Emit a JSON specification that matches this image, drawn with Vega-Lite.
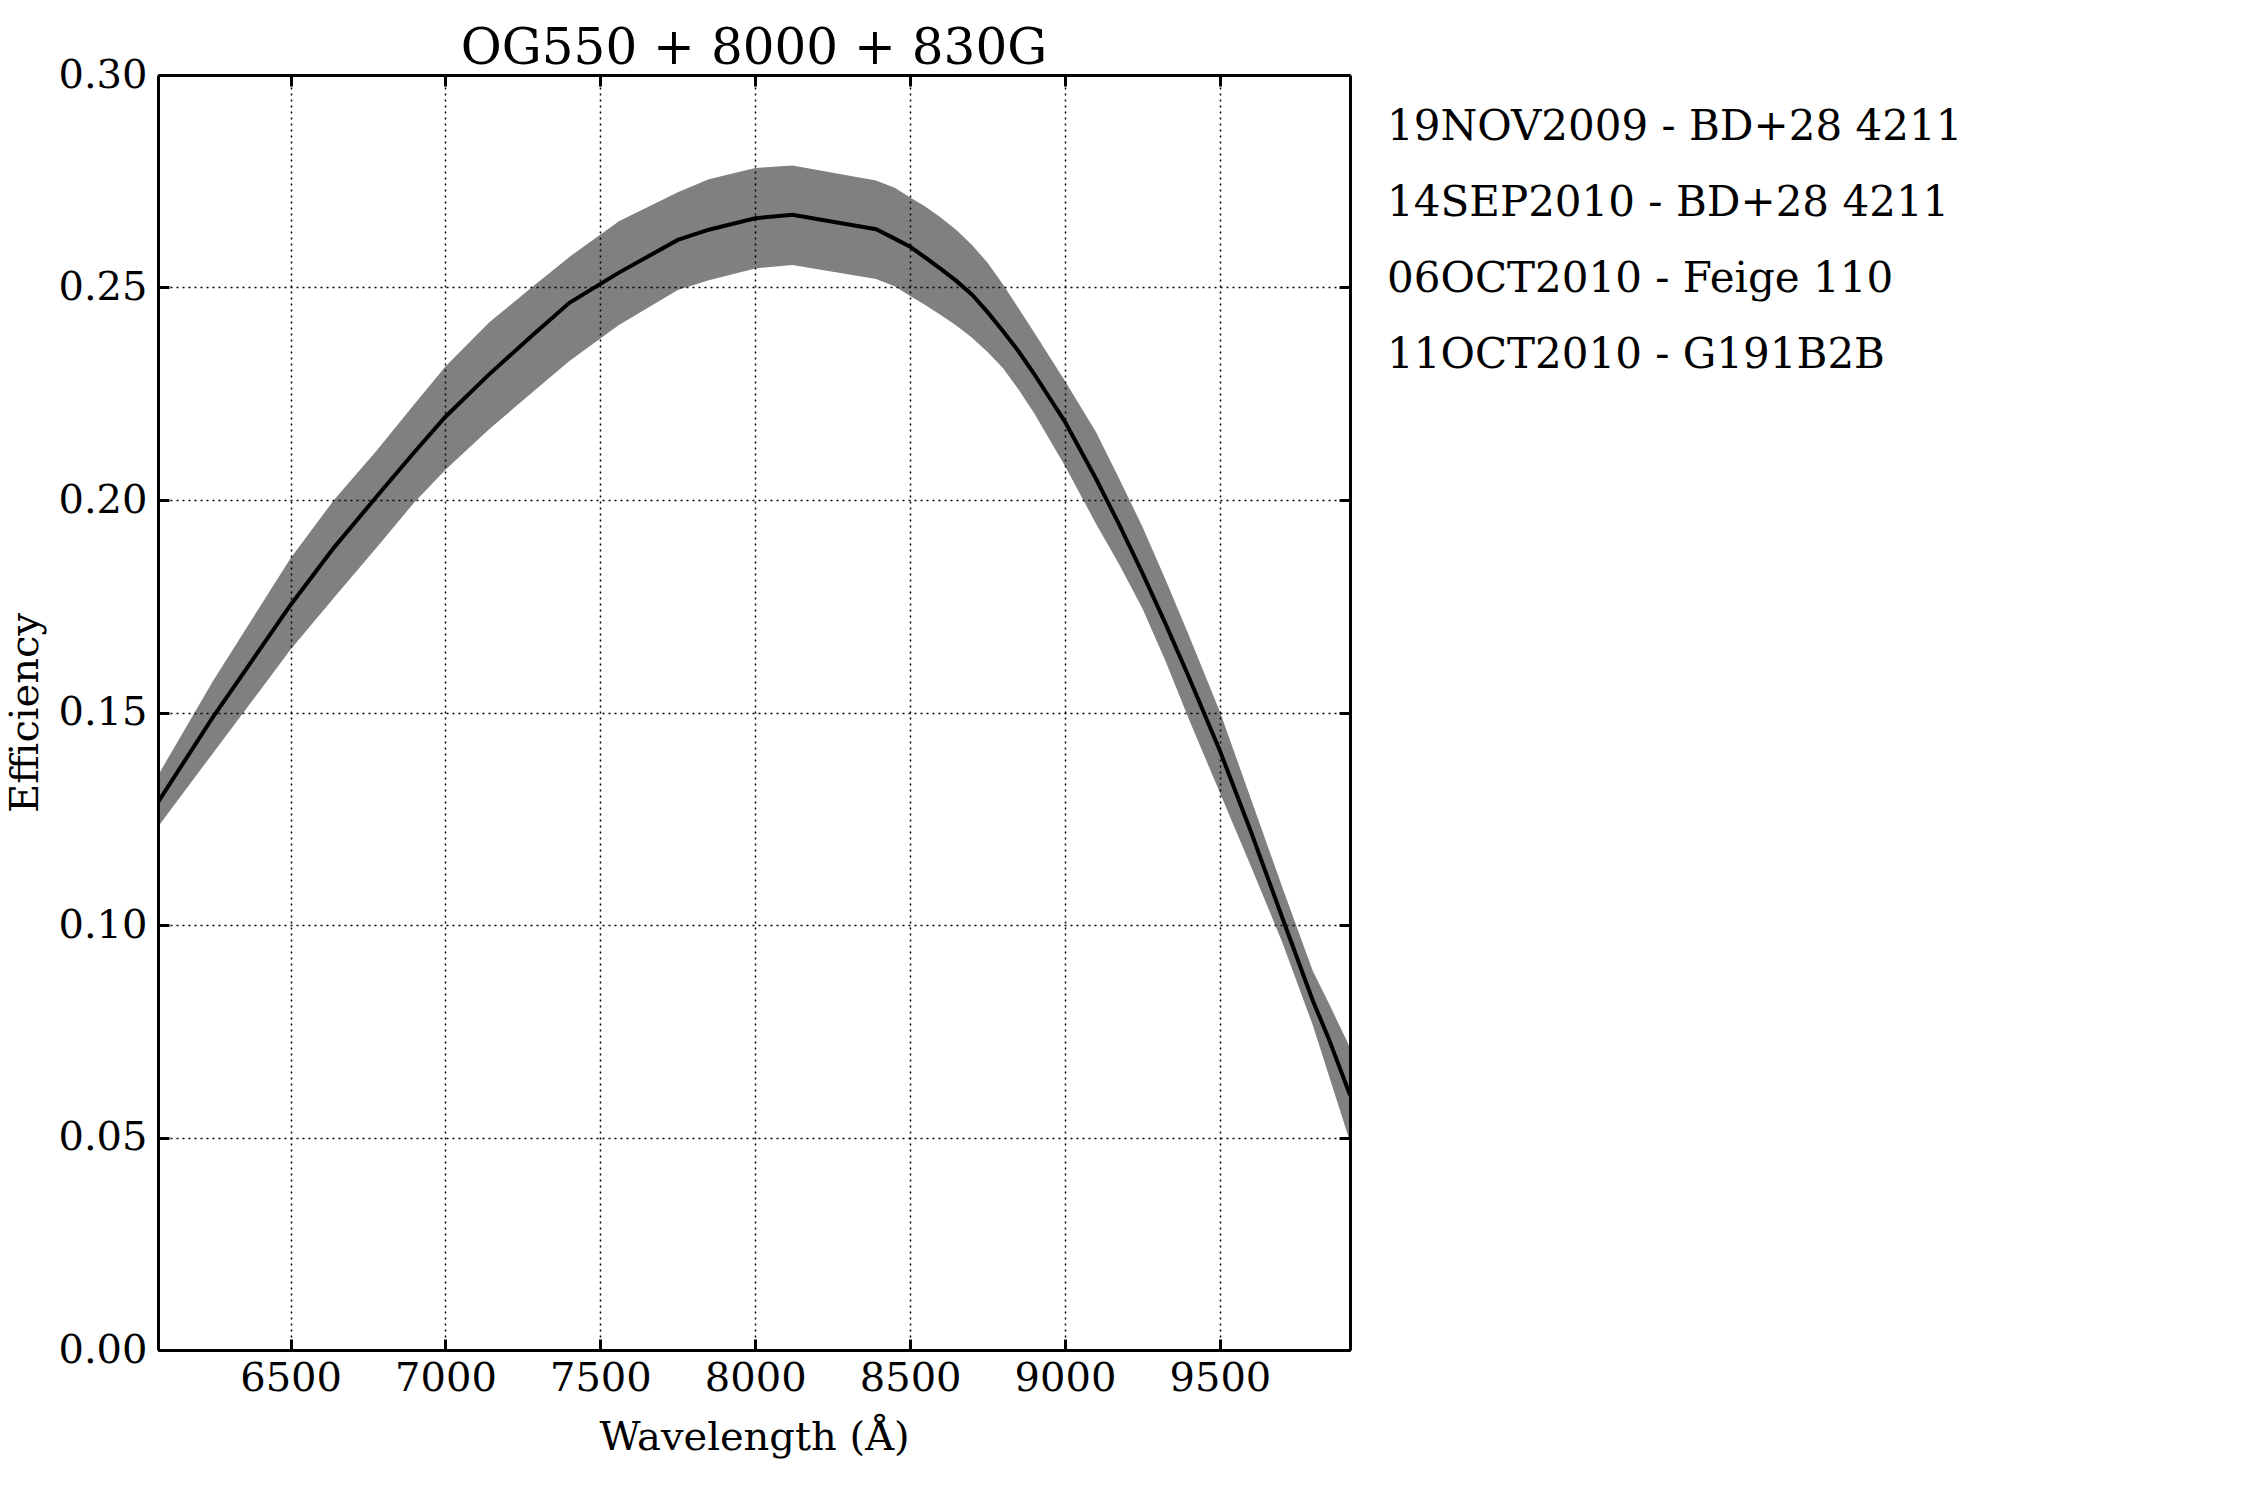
{
  "$schema": "https://vega.github.io/schema/vega-lite/v6.json",
  "autosize": {"type": "none"},
  "padding": {"left": 158, "top": 75, "right": 900, "bottom": 150},
  "width": 1192,
  "height": 1275,
  "background": "white",
  "config": {
    "view": {"stroke": null},
    "font": "DejaVu Serif"
  },
  "title": {
    "text": "OG550 + 8000 + 830G",
    "font": "DejaVu Serif",
    "fontSize": 50,
    "fontWeight": "normal",
    "color": "black",
    "anchor": "middle",
    "frame": "group",
    "offset": -19
  },
  "datasets": {
    "curve": [
      {"w": 6072, "lo": 0.1231, "mid": 0.1289, "hi": 0.1352},
      {"w": 6250, "lo": 0.1405, "mid": 0.1490, "hi": 0.1575},
      {"w": 6500, "lo": 0.1648, "mid": 0.1753, "hi": 0.1863},
      {"w": 6640, "lo": 0.1770, "mid": 0.1888, "hi": 0.2000},
      {"w": 6780, "lo": 0.1890, "mid": 0.2010, "hi": 0.2118},
      {"w": 6900, "lo": 0.1995, "mid": 0.2113, "hi": 0.2226},
      {"w": 7000, "lo": 0.2071, "mid": 0.2196, "hi": 0.2314},
      {"w": 7140, "lo": 0.2166, "mid": 0.2295, "hi": 0.2417},
      {"w": 7280, "lo": 0.2253, "mid": 0.2387, "hi": 0.2501},
      {"w": 7400, "lo": 0.2327, "mid": 0.2464, "hi": 0.2572},
      {"w": 7560, "lo": 0.2412, "mid": 0.2535, "hi": 0.2656},
      {"w": 7750, "lo": 0.2494, "mid": 0.2612, "hi": 0.2724},
      {"w": 7850, "lo": 0.2517, "mid": 0.2636, "hi": 0.2755},
      {"w": 8000, "lo": 0.2545, "mid": 0.2663, "hi": 0.2781},
      {"w": 8120, "lo": 0.2553, "mid": 0.2671, "hi": 0.2787},
      {"w": 8390, "lo": 0.2520, "mid": 0.2637, "hi": 0.2752},
      {"w": 8450, "lo": 0.2503, "mid": 0.2615, "hi": 0.2735},
      {"w": 8500, "lo": 0.2480, "mid": 0.2596, "hi": 0.2712},
      {"w": 8550, "lo": 0.2458, "mid": 0.2570, "hi": 0.2690},
      {"w": 8600, "lo": 0.2435, "mid": 0.2543, "hi": 0.2664},
      {"w": 8650, "lo": 0.2410, "mid": 0.2515, "hi": 0.2635},
      {"w": 8700, "lo": 0.2382, "mid": 0.2483, "hi": 0.2600},
      {"w": 8750, "lo": 0.2348, "mid": 0.2442, "hi": 0.2558},
      {"w": 8800, "lo": 0.2310, "mid": 0.2397, "hi": 0.2507},
      {"w": 8850, "lo": 0.2260, "mid": 0.2350, "hi": 0.2451},
      {"w": 8900, "lo": 0.2205, "mid": 0.2297, "hi": 0.2395},
      {"w": 9000, "lo": 0.2080, "mid": 0.2184, "hi": 0.2280},
      {"w": 9100, "lo": 0.1944, "mid": 0.2050, "hi": 0.2160},
      {"w": 9175, "lo": 0.1848, "mid": 0.1942, "hi": 0.2050},
      {"w": 9250, "lo": 0.1745, "mid": 0.1828, "hi": 0.1937},
      {"w": 9325, "lo": 0.1620, "mid": 0.1708, "hi": 0.1812},
      {"w": 9400, "lo": 0.1484, "mid": 0.1583, "hi": 0.1681},
      {"w": 9500, "lo": 0.1311, "mid": 0.1410, "hi": 0.1502},
      {"w": 9600, "lo": 0.1138, "mid": 0.1220, "hi": 0.1297},
      {"w": 9700, "lo": 0.0962, "mid": 0.1020, "hi": 0.1092},
      {"w": 9800, "lo": 0.0764, "mid": 0.0822, "hi": 0.0892},
      {"w": 9850, "lo": 0.0650, "mid": 0.0735, "hi": 0.0818},
      {"w": 9920, "lo": 0.0490, "mid": 0.0600, "hi": 0.0712}
    ],
    "observations": [
      {"obs": "19NOV2009 - BD+28 4211"},
      {"obs": "14SEP2010 - BD+28 4211"},
      {"obs": "06OCT2010 - Feige 110"},
      {"obs": "11OCT2010 - G191B2B"}
    ]
  },
  "resolve": {"axis": {"x": "independent", "y": "independent"}},
  "layer": [
    {
      "data": {"name": "curve"},
      "mark": {"type": "area", "color": "#808080", "opacity": 1, "clip": true},
      "encoding": {
        "x": {
          "field": "w",
          "type": "quantitative",
          "scale": {"domain": [6072, 9920], "nice": false, "zero": false},
          "axis": {
            "orient": "bottom",
            "values": [6500, 7000, 7500, 8000, 8500, 9000, 9500],
            "format": "d",
            "title": "Wavelength (Å)",
            "titleFont": "DejaVu Serif",
            "titleFontSize": 40,
            "titleFontWeight": "normal",
            "titleColor": "black",
            "titlePadding": 19,
            "labelFont": "DejaVu Serif",
            "labelFontSize": 40,
            "labelColor": "black",
            "labelPadding": 19,
            "labelFlush": false,
            "labelOverlap": false,
            "tickSize": -11,
            "tickWidth": 3,
            "tickColor": "black",
            "domainColor": "black",
            "domainWidth": 3,
            "grid": true,
            "gridColor": "black",
            "gridDash": [2, 4],
            "gridWidth": 1.5,
            "gridOpacity": 1,
            "zindex": 1
          }
        },
        "y": {
          "field": "lo",
          "type": "quantitative",
          "scale": {"domain": [0, 0.3], "nice": false},
          "axis": {
            "orient": "left",
            "values": [0, 0.05, 0.1, 0.15, 0.2, 0.25, 0.3],
            "format": ".2f",
            "title": "Efficiency",
            "titleFont": "DejaVu Serif",
            "titleFontSize": 40,
            "titleFontWeight": "normal",
            "titleColor": "black",
            "titlePadding": 12,
            "labelFont": "DejaVu Serif",
            "labelFontSize": 40,
            "labelColor": "black",
            "labelPadding": 22,
            "labelFlush": false,
            "labelOverlap": false,
            "tickSize": -11,
            "tickWidth": 3,
            "tickColor": "black",
            "domainColor": "black",
            "domainWidth": 3,
            "grid": true,
            "gridColor": "black",
            "gridDash": [2, 4],
            "gridWidth": 1.5,
            "gridOpacity": 1,
            "zindex": 1
          }
        },
        "y2": {"field": "hi"}
      }
    },
    {
      "data": {"name": "curve"},
      "mark": {"type": "line", "color": "black", "strokeWidth": 4, "clip": true},
      "encoding": {
        "x": {
          "field": "w",
          "type": "quantitative",
          "axis": {
            "orient": "top",
            "values": [6500, 7000, 7500, 8000, 8500, 9000, 9500],
            "labels": false,
            "title": null,
            "grid": false,
            "tickSize": -11,
            "tickWidth": 3,
            "tickColor": "black",
            "domainColor": "black",
            "domainWidth": 3,
            "zindex": 1
          }
        },
        "y": {
          "field": "mid",
          "type": "quantitative",
          "axis": {
            "orient": "right",
            "values": [0, 0.05, 0.1, 0.15, 0.2, 0.25, 0.3],
            "labels": false,
            "title": null,
            "grid": false,
            "tickSize": -11,
            "tickWidth": 3,
            "tickColor": "black",
            "domainColor": "black",
            "domainWidth": 3,
            "zindex": 1
          }
        }
      }
    },
    {
      "data": {"name": "observations"},
      "mark": {"type": "point", "opacity": 0},
      "encoding": {
        "color": {
          "field": "obs",
          "type": "nominal",
          "scale": {
            "domain": [
              "19NOV2009 - BD+28 4211",
              "14SEP2010 - BD+28 4211",
              "06OCT2010 - Feige 110",
              "11OCT2010 - G191B2B"
            ],
            "range": ["black", "black", "black", "black"]
          },
          "legend": {
            "orient": "none",
            "legendX": 1187,
            "legendY": 31,
            "title": null,
            "padding": 0,
            "labelFont": "DejaVu Serif",
            "labelFontSize": 42,
            "labelColor": "black",
            "labelLimit": 1000,
            "labelOffset": 0,
            "symbolSize": 0,
            "symbolOpacity": 0,
            "symbolStrokeWidth": 0,
            "rowPadding": 34
          }
        }
      }
    }
  ]
}
